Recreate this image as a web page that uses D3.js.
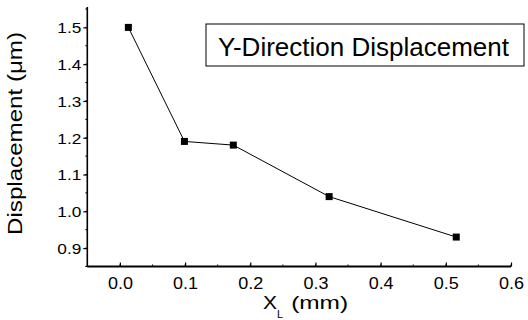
<!DOCTYPE html>
<html>
<head>
<meta charset="utf-8">
<script src="https://cdn.jsdelivr.net/npm/d3@7"></script>
<style>
  body { margin: 0; background: #fff; }
  text { font-family: 'Liberation Sans', Arial, sans-serif; fill: #000; }
</style>
</head>
<body>
<script>
var xValues = [0.013, 0.099, 0.174, 0.321, 0.516]
var yValues = [1.50, 1.19, 1.18, 1.04, 0.93]
var xTicks = [0.0, 0.1, 0.2, 0.3, 0.4, 0.5, 0.6]
var yTicks = [0.9, 1.0, 1.1, 1.2, 1.3, 1.4, 1.5]
var legendLabel = 'Y-Direction Displacement'

var width = 528, height = 320

var x = d3.scaleLinear().domain([-0.05, 0.6]).range([87.3, 511])
var y = d3.scaleLinear().domain([0.85, 1.55]).range([266.5, 9])

var svg = d3.select('body').append('svg')
  .attr('width', width)
  .attr('height', height)

// minor ticks every 0.05
var xMinor = d3.range(-0.05, 0.6001, 0.05)
var yMinor = d3.range(0.85, 1.5501, 0.05)

// y axis (ticks outward)
var yAxis = d3.axisLeft(y).tickValues(yTicks).tickSize(4).tickFormat(d3.format('.1f'))
var gy = svg.append('g')
  .attr('transform', 'translate(' + x.range()[0] + ',0)')
  .call(yAxis)
gy.select('.domain').attr('stroke-width', 1.6).attr('d', 'M0,' + (y(1.55) - 2) + 'V' + y(0.85))
gy.selectAll('.tick line').attr('stroke-width', 1.2)
gy.selectAll('.tick text')
  .attr('font-size', 15)
  .attr('x', -6)
  .attr('dy', '0.36em')
  .attr('textLength', 24)
  .attr('lengthAdjust', 'spacingAndGlyphs')
gy.selectAll('.minor')
  .data(yMinor)
  .enter().append('line')
  .attr('x1', -2).attr('x2', 0)
  .attr('y1', d => y(d)).attr('y2', d => y(d))
  .attr('stroke', '#000')

// x axis (ticks inward)
var xAxis = d3.axisTop(x).tickValues(xTicks).tickSize(4).tickFormat(d3.format('.1f'))
var gx = svg.append('g')
  .attr('transform', 'translate(0,' + y.range()[0] + ')')
  .call(xAxis)
gx.select('.domain').attr('stroke-width', 2).attr('d', 'M' + x(-0.05) + ',0H' + x(0.6))
gx.selectAll('.tick line').attr('stroke-width', 1.2)
gx.selectAll('.tick text')
  .attr('font-size', 16)
  .attr('y', 22)
  .attr('dy', 0)
  .attr('textLength', 25)
  .attr('lengthAdjust', 'spacingAndGlyphs')
gx.selectAll('.minor')
  .data(xMinor)
  .enter().append('line')
  .attr('x1', d => x(d)).attr('x2', d => x(d))
  .attr('y1', 0).attr('y2', -2)
  .attr('stroke', '#000')

// series line
var line = d3.line()
  .x((d, i) => x(xValues[i]))
  .y(d => y(d))

svg.append('path')
  .datum(yValues)
  .attr('d', line)
  .attr('fill', 'none')
  .attr('stroke', '#000')
  .attr('stroke-width', 1)

svg.selectAll('rect.pt')
  .data(yValues)
  .enter().append('rect')
  .attr('class', 'pt')
  .attr('x', (d, i) => x(xValues[i]) - 3.5)
  .attr('y', d => y(d) - 3.5)
  .attr('width', 7)
  .attr('height', 7)
  .attr('fill', '#000')

// legend box
svg.append('rect')
  .attr('x', 206).attr('y', 24)
  .attr('width', 318).attr('height', 42)
  .attr('fill', 'none')
  .attr('stroke', '#000')
  .attr('stroke-width', 1)

svg.append('text')
  .attr('x', 218).attr('y', 55.5)
  .attr('font-size', 26)
  .attr('textLength', 291)
  .attr('lengthAdjust', 'spacingAndGlyphs')
  .text(legendLabel)

// axis titles
svg.append('text')
  .attr('transform', 'translate(22,133.5) rotate(-90)')
  .attr('text-anchor', 'middle')
  .attr('font-size', 21)
  .attr('textLength', 203)
  .attr('lengthAdjust', 'spacingAndGlyphs')
  .text('Displacement (\u03bcm)')

var xt = svg.append('text')
  .attr('x', 263).attr('y', 308.5)
  .attr('font-size', 19)
xt.append('tspan').attr('textLength', 14).attr('lengthAdjust', 'spacingAndGlyphs').text('X')
xt.append('tspan').attr('font-size', 11).attr('dy', 9).attr('dx', 0).text('L')
xt.append('tspan').attr('dy', -9).attr('dx', 8).attr('font-size', 19)
  .attr('textLength', 57).attr('lengthAdjust', 'spacingAndGlyphs').text('(mm)')
</script>
</body>
</html>
